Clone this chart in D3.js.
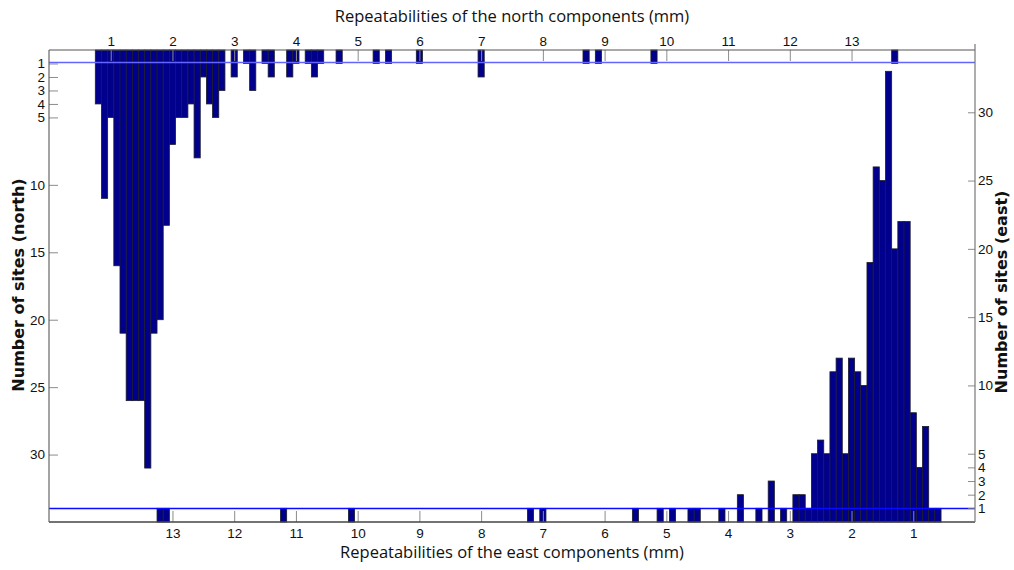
<!DOCTYPE html>
<html>
<head>
<meta charset="utf-8">
<script src="https://cdn.jsdelivr.net/npm/d3@7"></script>
<style>
  body { margin: 0; background: #fff; }
  svg { display: block; }
  .tick-label { font-family: "Liberation Sans Narrow", "Liberation Sans", Arial, sans-serif; font-size: 13.5px; fill: #111; }
  .title { font-family: "Open Sans", sans-serif; font-size: 16.5px; fill: #111; }
  .ytitle { font-family: "DejaVu Sans", Verdana, sans-serif; font-size: 16px; font-weight: bold; fill: #111; }
</style>
</head>
<body>
<svg width="1014" height="570"></svg>
<script>
//histogram data, bin centers in mm (bins are 0.1 mm wide) -------------------
var northMM = [0.8, 0.9, 1.0, 1.1, 1.2, 1.3, 1.4, 1.5, 1.6, 1.7, 1.8, 1.9, 2.0,
  2.1, 2.2, 2.3, 2.4, 2.5, 2.6, 2.7, 2.8,
  3.0, 3.2, 3.3, 3.5, 3.6, 3.9, 4.0, 4.2, 4.3, 4.4,
  4.7, 5.3, 5.5, 6.0, 7.0, 8.7, 8.9, 9.8, 13.7];
var northSites = [4, 11, 5, 16, 21, 26, 26, 26, 31, 21, 20, 13, 7,
  5, 5, 4, 8, 2, 4, 5, 3,
  2, 1, 3, 1, 2, 2, 1, 1, 2, 1,
  1, 1, 1, 1, 2, 1, 1, 1, 1];

var eastMM = [13.2, 13.1, 11.2, 10.1, 7.2, 7.0, 5.5, 5.1, 4.9, 4.6, 4.5,
  4.1, 3.8, 3.5, 3.3, 3.1, 2.9, 2.8, 2.7, 2.6, 2.5, 2.4, 2.3, 2.2, 2.1,
  2.0, 1.9, 1.8, 1.7, 1.6, 1.5, 1.4, 1.3, 1.2, 1.1, 1.0, 0.9, 0.8, 0.7, 0.6];
var eastSites = [1, 1, 1, 1, 1, 1, 1, 1, 1, 1, 1,
  1, 2, 1, 3, 1, 2, 2, 1, 5, 6, 5, 11, 12, 5,
  12, 11, 10, 19, 26, 25, 33, 20, 22, 22, 8, 4, 7, 1, 1];

var mmTicks = [1, 2, 3, 4, 5, 6, 7, 8, 9, 10, 11, 12, 13];
var siteTicks = [1, 2, 3, 4, 5, 10, 15, 20, 25, 30];
var binWidth = 0.1;

//scales ----------------------------------------------------------------------
//(careful: "top" is window.top, so the box edges get their own names)
var boxL = 49, boxR = 975, boxT = 50, boxB = 522;
var svg = d3.select('svg');

var xNorth = d3.scaleLinear().domain([0, 15]).range([boxL, boxR]);
var xEast = d3.scaleLinear().domain([15, 0]).range([boxL, boxR]);
var yNorth = d3.scaleLinear().domain([0, 35]).range([boxT, boxB]);   //hangs down
var yEast = d3.scaleLinear().domain([0, 35]).range([boxB, 44]);      //grows up

var north = northMM.map(function(d, i){ return {mm: d, n: northSites[i]}; });
var east = eastMM.map(function(d, i){ return {mm: d, n: eastSites[i]}; });

//bars --------------------------------------------------------------------------
svg.selectAll('.north-bar')
  .data(north)
  .enter()
  .append('rect')
    .attr('class', 'north-bar')
    .attr('x', function(d){ return xNorth(d.mm - binWidth / 2); })
    .attr('width', function(d){ return xNorth(d.mm + binWidth / 2) - xNorth(d.mm - binWidth / 2); })
    .attr('y', yNorth(0))
    .attr('height', function(d){ return yNorth(d.n) - yNorth(0); })
    .attr('fill', '#00008c')
    .attr('stroke', '#1c1c2a')
    .attr('stroke-width', 0.8);

svg.selectAll('.east-bar')
  .data(east)
  .enter()
  .append('rect')
    .attr('class', 'east-bar')
    .attr('x', function(d){ return xEast(d.mm + binWidth / 2); })
    .attr('width', function(d){ return xEast(d.mm - binWidth / 2) - xEast(d.mm + binWidth / 2); })
    .attr('y', function(d){ return yEast(d.n); })
    .attr('height', function(d){ return yEast(0) - yEast(d.n); })
    .attr('fill', '#00008c')
    .attr('stroke', '#1c1c2a')
    .attr('stroke-width', 0.8);

//the two "one site" reference lines (snapped to the pixel grid)
var oneN = Math.round(yNorth(1)) - 0.5;
var oneE = Math.round(yEast(1)) + 0.5;
svg.append('line')
  .attr('x1', boxL).attr('x2', boxR)
  .attr('y1', oneN).attr('y2', oneN)
  .attr('stroke', '#6464ff').attr('stroke-width', 1.3);
svg.append('line')
  .attr('x1', boxL).attr('x2', boxR)
  .attr('y1', oneE).attr('y2', oneE)
  .attr('stroke', '#0a0aff').attr('stroke-width', 1.3);

//axes (ticks point into the box) ------------------------------------------------
var topAxis = d3.axisTop(xNorth).tickValues(mmTicks).tickSize(-11).tickPadding(4);
var bottomAxis = d3.axisBottom(xEast).tickValues(mmTicks).tickSize(-11).tickPadding(6);
var leftAxis = d3.axisLeft(yNorth).tickValues(siteTicks).tickSize(-9).tickPadding(4);
var rightAxis = d3.axisRight(yEast).tickValues(siteTicks).tickSize(-7).tickPadding(3);

function styleAxis(g){
  g.select('.domain').remove();
  g.selectAll('.tick line').attr('stroke', '#8c8c8c');
  g.selectAll('.tick text').attr('class', 'tick-label').attr('fill', null);
  g.attr('font-family', null).attr('font-size', null);
}

svg.append('g').attr('transform', 'translate(0,' + boxT + ')').call(topAxis).call(styleAxis);
svg.append('g').attr('transform', 'translate(0,' + boxB + ')').call(bottomAxis).call(styleAxis);
svg.append('g').attr('transform', 'translate(' + boxL + ',0)').call(leftAxis).call(styleAxis);
svg.append('g').attr('transform', 'translate(' + boxR + ',0)').call(rightAxis).call(styleAxis);

//box
svg.append('line').attr('x1', boxL).attr('x2', boxR).attr('y1', boxT).attr('y2', boxT)
  .attr('stroke', '#555').attr('stroke-width', 1.2);
svg.append('line').attr('x1', boxL).attr('x2', boxR).attr('y1', boxB).attr('y2', boxB)
  .attr('stroke', '#444').attr('stroke-width', 1.5);
svg.append('line').attr('x1', boxL).attr('x2', boxL).attr('y1', boxT).attr('y2', boxB)
  .attr('stroke', '#666').attr('stroke-width', 1.2);
svg.append('line').attr('x1', boxR).attr('x2', boxR).attr('y1', yEast(35)).attr('y2', boxB)
  .attr('stroke', '#777').attr('stroke-width', 1.2);

//titles ----------------------------------------------------------------------------
svg.append('text').attr('class', 'title')
  .attr('x', 512).attr('y', 22).attr('text-anchor', 'middle')
  .text('Repeatabilities of the north components (mm)');
svg.append('text').attr('class', 'title')
  .attr('x', 512).attr('y', 558).attr('text-anchor', 'middle')
  .text('Repeatabilities of the east components (mm)');
svg.append('text').attr('class', 'ytitle')
  .attr('transform', 'translate(24,285) rotate(-90)').attr('text-anchor', 'middle')
  .text('Number of sites (north)');
svg.append('text').attr('class', 'ytitle')
  .attr('transform', 'translate(1007,292) rotate(-90)').attr('text-anchor', 'middle')
  .text('Number of sites (east)');
</script>
</body>
</html>
